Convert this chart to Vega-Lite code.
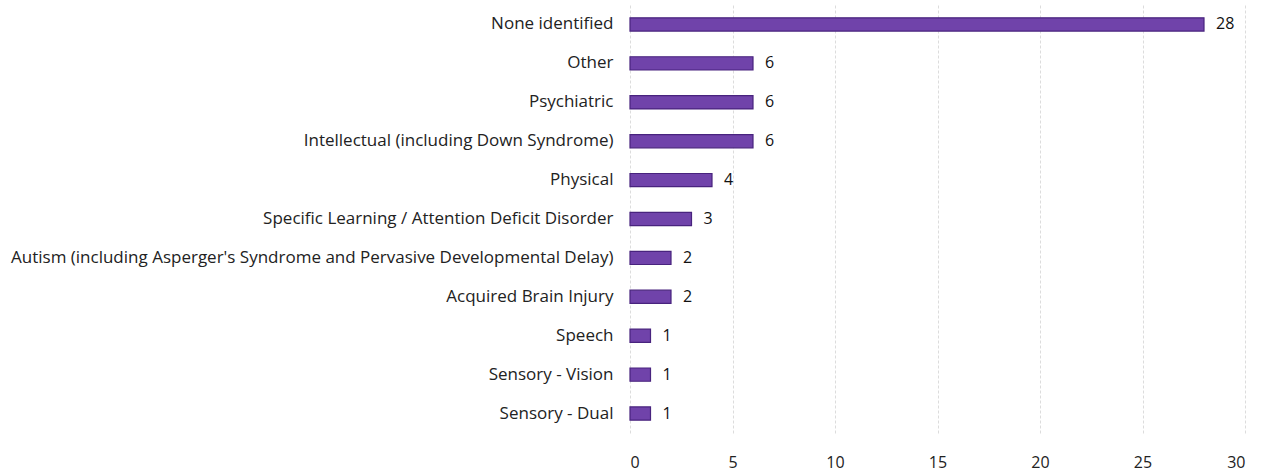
{
  "$schema": "https://vega.github.io/schema/vega-lite/v6.json",
  "width": 615,
  "height": 428,
  "autosize": {"type": "none"},
  "padding": {"left": 630, "top": 5, "right": 26, "bottom": 38},
  "background": "white",
  "config": {
    "view": {"stroke": null},
    "font": "Open Sans",
    "axis": {"labelFont": "Open Sans", "labelColor": "#222222", "labelFontSize": 17}
  },
  "data": {
    "values": [
      {"category": "None identified", "count": 28},
      {"category": "Other", "count": 6},
      {"category": "Psychiatric", "count": 6},
      {"category": "Intellectual (including Down Syndrome)", "count": 6},
      {"category": "Physical", "count": 4},
      {"category": "Specific Learning / Attention Deficit Disorder", "count": 3},
      {"category": "Autism (including Asperger's Syndrome and Pervasive Developmental Delay)", "count": 2},
      {"category": "Acquired Brain Injury", "count": 2},
      {"category": "Speech", "count": 1},
      {"category": "Sensory - Vision", "count": 1},
      {"category": "Sensory - Dual", "count": 1}
    ]
  },
  "encoding": {
    "y": {
      "field": "category",
      "type": "nominal",
      "sort": null,
      "title": null,
      "scale": {"paddingInner": 0.66, "paddingOuter": 0.33},
      "axis": {"domain": false, "ticks": false, "labelPadding": 17, "labelLimit": 700}
    },
    "x": {
      "field": "count",
      "type": "quantitative",
      "title": null,
      "scale": {"domain": [0, 30], "nice": false},
      "axis": {
        "values": [0, 5, 10, 15, 20, 25, 30],
        "domain": false,
        "ticks": false,
        "labelPadding": 21,
        "grid": true,
        "gridColor": "#dcdcdc",
        "gridDash": [3, 2],
        "labelFontSize": 16
      }
    }
  },
  "layer": [
    {
      "mark": {"type": "bar", "color": "#7043aa", "stroke": "#48237e", "strokeWidth": 1.2}
    },
    {
      "mark": {"type": "text", "align": "left", "baseline": "middle", "dx": 12, "fontSize": 16, "color": "#111111", "font": "Open Sans"},
      "encoding": {"text": {"field": "count", "type": "quantitative"}}
    }
  ]
}
